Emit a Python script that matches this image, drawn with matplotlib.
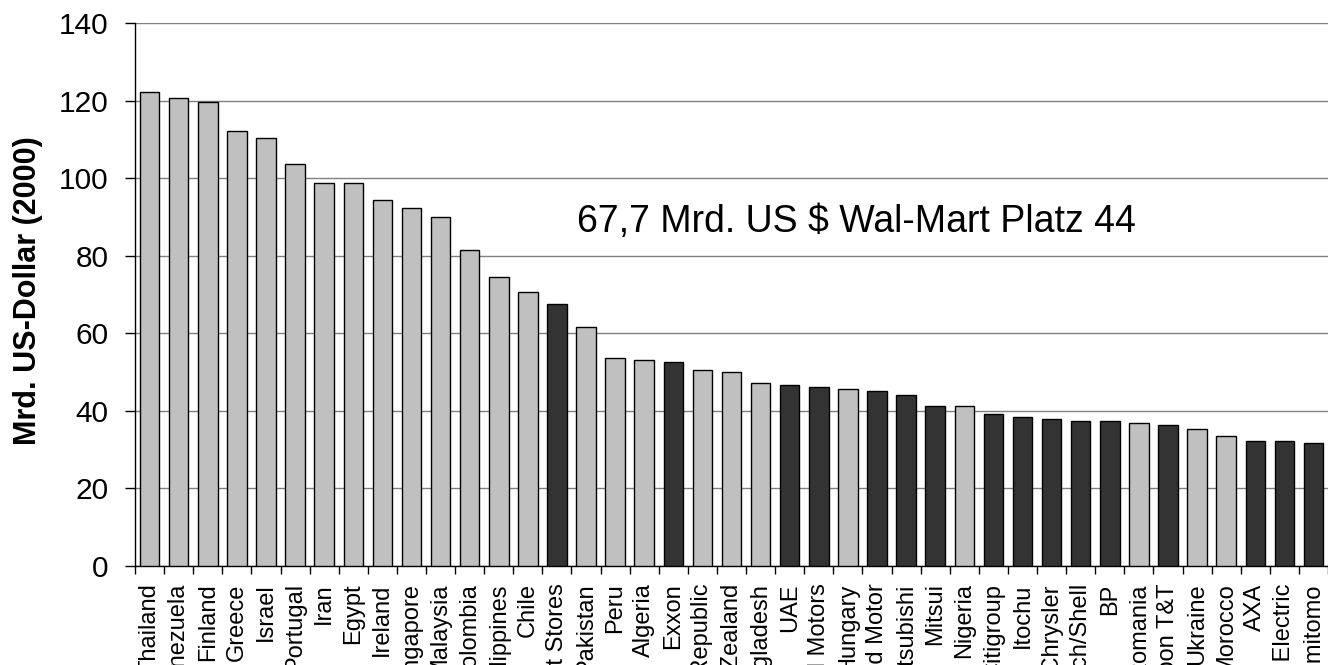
import matplotlib
matplotlib.use("Agg")
import matplotlib.pyplot as plt
import numpy as np

plt.rcParams['font.family'] = ['Liberation Sans', 'DejaVu Sans']

names = ["Thailand", "Venezuela", "Finland", "Greece", "Israel", "Portugal", "Iran", "Egypt",
         "Ireland", "Singapore", "Malaysia", "Colombia", "Philippines", "Chile", "Wal-Mart Stores",
         "Pakistan", "Peru", "Algeria", "Exxon", "Czech Republic", "New Zealand", "Bangladesh",
         "UAE", "General Motors", "Hungary", "Ford Motor", "Mitsubishi", "Mitsui", "Nigeria",
         "Citigroup", "Itochu", "DaimlerChrysler", "Royal Dutch/Shell", "BP", "Romania",
         "Nippon T&T", "Ukraine", "Morocco", "AXA", "General Electric", "Sumitomo"]
values = [122.2, 120.6, 119.7, 112.2, 110.3, 103.8, 98.9, 98.9,
          94.4, 92.4, 89.9, 81.5, 74.5, 70.6, 67.7,
          61.7, 53.7, 53.2, 52.7, 50.6, 50.1, 47.3,
          46.7, 46.2, 45.7, 45.2, 44.2, 41.3, 41.3,
          39.2, 38.3, 37.8, 37.3, 37.3, 36.8,
          36.3, 35.2, 33.4, 32.3, 32.3, 31.8]
is_company = [0, 0, 0, 0, 0, 0, 0, 0,
              0, 0, 0, 0, 0, 0, 1,
              0, 0, 0, 1, 0, 0, 0,
              1, 1, 0, 1, 1, 1, 0,
              1, 1, 1, 1, 1, 0,
              1, 0, 0, 1, 1, 1]
annotation = "67,7 Mrd. US $ Wal-Mart Platz 44"

fig = plt.figure(figsize=(13.28, 6.65), dpi=100)
ax = fig.add_axes([0.1017, 0.149, 0.8983, 0.816])

x = np.arange(len(names))
colors = ['#333333' if c else '#C0C0C0' for c in is_company]
ax.bar(x, values, width=0.67, color=colors, edgecolor='black', linewidth=1.0, zorder=3)

ax.set_xlim(-0.5, len(names) - 0.5)
ax.set_ylim(0, 140)
ax.set_yticks(np.arange(0, 141, 20))
ax.yaxis.grid(True, color='#808080', linewidth=1.0, zorder=0)
ax.set_axisbelow(True)

for s in ['top', 'right']:
    ax.spines[s].set_visible(False)
ax.spines['left'].set_linewidth(1.0)
ax.spines['bottom'].set_linewidth(1.0)

ax.set_xticks(x)
ax.set_xticklabels(names, rotation=90, fontsize=17, va='top', ha='center')
ax.tick_params(axis='x', which='major', length=0, pad=12.5)
ax.set_xticks(np.arange(-0.5, len(names), 1), minor=True)
ax.tick_params(axis='x', which='minor', length=6, width=1, direction='out')
ax.tick_params(axis='y', labelsize=21.5, length=7, width=1, direction='out', pad=12)

ax.set_ylabel("Mrd. US-Dollar (2000)", fontsize=22, fontweight='bold')
ax.yaxis.set_label_coords(-0.077, 0.508)

ax.text(14.69, 86.1, annotation, fontsize=27, ha='left', va='baseline')

fig.savefig("out.png", dpi=100)
